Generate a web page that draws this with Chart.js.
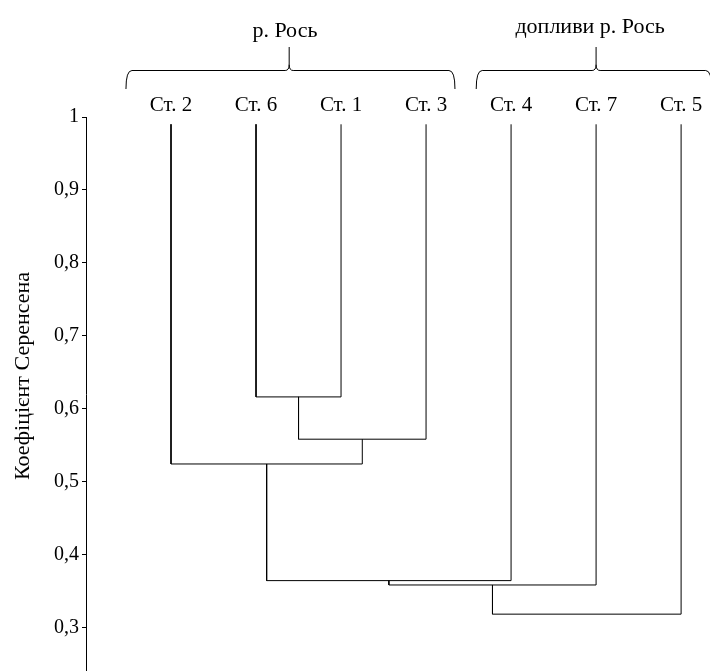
<!DOCTYPE html>
<html lang="uk">
<head>
<meta charset="UTF-8">
<title>Дендрограма</title>
<style>
    body { margin: 0; padding: 0; background: #fff; }
    #wrap { width: 710px; height: 671px; position: relative; }
</style>
<script src="https://cdn.jsdelivr.net/npm/chart.js"></script>
</head>
<body>
<div id="wrap"><canvas id="chart"></canvas></div>
<script>
    // stations in dendrogram leaf order
    const stations = ['Ст. 2', 'Ст. 6', 'Ст. 1', 'Ст. 3', 'Ст. 4', 'Ст. 7', 'Ст. 5'];
    // merges: node ids 0..6 are leaves, each merge creates node 7, 8, ...
    const mergeLeft = [1, 7, 0, 9, 10, 11];
    const mergeRight = [2, 3, 8, 4, 5, 6];
    const mergeHeight = [0.616, 0.558, 0.524, 0.364, 0.358, 0.318];
    const leafTop = 0.99;
    const yTicks = [1, 0.9, 0.8, 0.7, 0.6, 0.5, 0.4, 0.3];
    const groupNames = ['р. Рось', 'допливи р. Рось'];

    const FONT = 'Liberation Serif, Times New Roman, serif';

    // build dendrogram links
    const nodeX = stations.map((s, i) => i);
    const nodeY = stations.map(() => leafTop);
    const datasets = [];
    mergeHeight.forEach((h, i) => {
        const a = mergeLeft[i], b = mergeRight[i];
        datasets.push({
            data: [
                { x: nodeX[a], y: nodeY[a] },
                { x: nodeX[a], y: h },
                { x: nodeX[b], y: h },
                { x: nodeX[b], y: nodeY[b] }
            ],
            showLine: true,
            borderColor: '#000',
            borderWidth: 1,
            pointRadius: 0,
            tension: 0
        });
        nodeX.push((nodeX[a] + nodeX[b]) / 2);
        nodeY.push(h);
    });

    // braces above the station labels (in x-scale units)
    const braces = [
        { text: groupNames[0], from: -0.53, to: 3.34, tip: 1.39, textAt: 1.34, textY: 37 },
        { text: groupNames[1], from: 3.59, to: 6.36, tip: 5.0, textAt: 4.93, textY: 33 }
    ];

    const extras = {
        id: 'extras',
        afterDraw(chart) {
            const ctx = chart.ctx;
            const xs = chart.scales.x;
            ctx.save();
            ctx.strokeStyle = '#000';
            ctx.lineWidth = 1;
            ctx.fillStyle = '#000';
            ctx.font = '22px ' + FONT;
            const y0 = 70.5, yEnd = 89, yTip = 47, r = 6;
            braces.forEach(b => {
                const x1 = xs.getPixelForValue(b.from);
                const x2 = xs.getPixelForValue(b.to);
                const xt = xs.getPixelForValue(b.tip);
                ctx.beginPath();
                ctx.moveTo(x1, yEnd);
                ctx.quadraticCurveTo(x1, y0, x1 + r, y0);
                ctx.lineTo(xt - 4, y0);
                ctx.quadraticCurveTo(xt, y0, xt, y0 - 6);
                ctx.lineTo(xt, yTip);
                ctx.moveTo(xt, y0 - 6);
                ctx.quadraticCurveTo(xt, y0, xt + 4, y0);
                ctx.lineTo(x2 - r, y0);
                ctx.quadraticCurveTo(x2, y0, x2, yEnd);
                ctx.stroke();
                ctx.textAlign = 'center';
                ctx.textBaseline = 'alphabetic';
                ctx.fillText(b.text, xs.getPixelForValue(b.textAt), b.textY);
            });
            // y axis title
            ctx.translate(23, 376);
            ctx.rotate(-Math.PI / 2);
            ctx.textAlign = 'center';
            ctx.textBaseline = 'middle';
            ctx.fillText('Коефіцієнт Серенсена', 0, 0);
            ctx.restore();
        }
    };

    const ctx = document.getElementById('chart').getContext('2d');
    const chart = new Chart(ctx, {
        type: 'scatter',
        data: { datasets: datasets },
        options: {
            responsive: true,
            maintainAspectRatio: false,
            animation: false,
            layout: { padding: 0 },
            plugins: { legend: { display: false }, tooltip: { enabled: false } },
            scales: {
                x: {
                    type: 'linear',
                    position: 'top',
                    min: -1,
                    max: 6.34,
                    afterFit(scale) {
                        scale.height = 117;
                        scale.paddingLeft = 0;
                        scale.paddingRight = 0;
                    },
                    afterBuildTicks(scale) { scale.ticks = stations.map((s, i) => ({ value: i })); },
                    grid: { display: false, drawTicks: false },
                    border: { display: false },
                    ticks: {
                        autoSkip: false,
                        maxRotation: 0,
                        padding: -1,
                        color: '#000',
                        font: { family: FONT, size: 21 },
                        callback: v => stations[v]
                    }
                },
                y: {
                    min: 0.24,
                    max: 1,
                    afterFit(scale) {
                        scale.width = 86;
                        scale.paddingTop = 0;
                        scale.paddingBottom = 0;
                    },
                    afterBuildTicks(scale) { scale.ticks = yTicks.map(v => ({ value: v })); },
                    grid: { drawOnChartArea: false, tickLength: 4, color: '#000', lineWidth: 1 },
                    border: { display: true, color: '#000', width: 1 },
                    ticks: {
                        padding: 3,
                        color: '#000',
                        font: { family: FONT, size: 20 },
                        callback: v => v === 1 ? '1' : v.toFixed(1).replace('.', ',')
                    }
                }
            }
        },
        plugins: [extras]
    });
</script>
</body>
</html>
